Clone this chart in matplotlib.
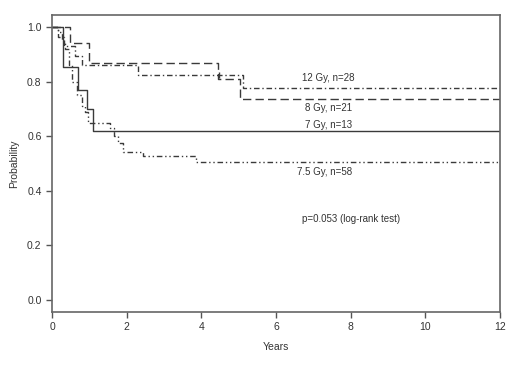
import matplotlib
matplotlib.use("Agg")
import matplotlib.pyplot as plt

plt.rcParams['font.family'] = ['Liberation Sans', 'DejaVu Sans']

# Kaplan-Meier step data (time in years, survival probability)
t_7gy = [0, 0.30, 0.69, 0.93, 1.09, 12]
s_7gy = [1.0, 0.852, 0.771, 0.698, 0.618, 0.618]

t_8gy = [0, 0.48, 0.99, 4.45, 5.04, 12]
s_8gy = [1.0, 0.942, 0.870, 0.808, 0.735, 0.735]

t_12gy = [0, 0.17, 0.32, 0.62, 0.80, 2.31, 5.12, 12]
s_12gy = [1.0, 0.964, 0.929, 0.893, 0.860, 0.826, 0.777, 0.777]

t_75gy = [0, 0.17, 0.26, 0.35, 0.45, 0.53, 0.66, 0.80, 0.88, 0.97,
          1.55, 1.65, 1.78, 1.90, 2.44, 3.87, 12]
s_75gy = [1.0, 0.98, 0.95, 0.92, 0.86, 0.80, 0.75, 0.71, 0.69, 0.65,
          0.63, 0.60, 0.575, 0.543, 0.527, 0.505, 0.505]

censor_12gy_t = [4.47]
censor_12gy_s = [0.826]

labels = ["12 Gy, n=28", "8 Gy, n=21", "7 Gy, n=13", "7.5 Gy, n=58"]
x_ticks = [0, 2, 4, 6, 8, 10, 12]
y_ticks = [0.0, 0.2, 0.4, 0.6, 0.8, 1.0]

fig = plt.figure(figsize=(5.2, 3.66), dpi=100)
ax = fig.add_axes([0.1, 0.1475, 0.8615, 0.8115])

lc = '#3a3a3a'
lw = 1.0
ax.step(t_7gy, s_7gy, where='post', color=lc, lw=lw, linestyle='-')
ax.step(t_8gy, s_8gy, where='post', color=lc, lw=lw, linestyle=(0, (6, 3)))
ax.step(t_12gy, s_12gy, where='post', color=lc, lw=lw, linestyle=(0, (4, 2, 1, 2)))
ax.step(t_75gy, s_75gy, where='post', color=lc, lw=lw, linestyle=(0, (4, 2, 1, 2, 1, 2)))
ax.plot(censor_12gy_t, censor_12gy_s, marker='|', color=lc, ms=5, mew=1, linestyle='none')

fs = 7
tc = '#333333'
ax.text(7.4, 0.815, labels[0], ha='center', va='center', fontsize=fs, color=tc)
ax.text(7.4, 0.702, labels[1], ha='center', va='center', fontsize=fs, color=tc)
ax.text(7.4, 0.640, labels[2], ha='center', va='center', fontsize=fs, color=tc)
ax.text(7.3, 0.470, labels[3], ha='center', va='center', fontsize=fs, color=tc)
ax.text(8.0, 0.295, "p=0.053 (log-rank test)", ha='center', va='center', fontsize=fs, color=tc)

ax.set_xlim(0, 12)
ax.set_ylim(-0.044, 1.044)
ax.set_xticks(x_ticks)
ax.set_xticklabels([str(v) for v in x_ticks])
ax.set_yticks(y_ticks)
ax.set_yticklabels([f"{v:.1f}" for v in y_ticks])
ax.tick_params(labelsize=7.5, colors='#555555', labelcolor=tc, length=4, width=1)
for sp in ax.spines.values():
    sp.set_color('#666666')
    sp.set_linewidth(1.2)

ax.set_xlabel("Years", fontsize=7.5, color=tc, labelpad=7)
ax.set_ylabel("Probability", fontsize=7.5, color=tc, labelpad=6)

fig.savefig("out.png", dpi=100)
